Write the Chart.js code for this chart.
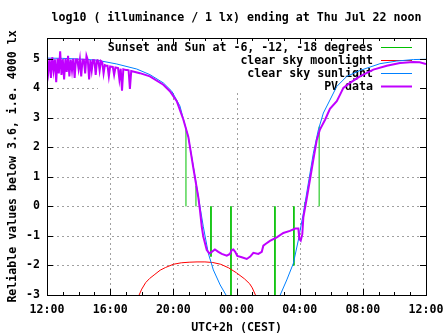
<!DOCTYPE html>
<html>
<head>
<meta charset="utf-8">
<title>log10 illuminance</title>
<script src="https://cdn.jsdelivr.net/npm/chart.js@4.4.1/dist/chart.umd.min.js"></script>
<style>
    html, body { margin: 0; padding: 0; background: #fff; }
    canvas { display: block; }
</style>
</head>
<body>
<canvas id="luxChart" width="447" height="335"></canvas>
<script>
// All times are local CEST, noon to noon; a time smaller than the one before it is the next day.

// Sunset and sun at -6, -12, -18 degrees (evening, then morning)
const sunEventTimes = ['20:48', '21:26', '22:23', '23:39', '02:26', '03:38', '04:20', '05:14'];
const sunEventLevels = [2.6, 0.7, -1.7, -3, -3, -2.0, 0.15, 2.7];

// Clear sky moonlight
const moonTimes = ['17:50', '18:00', '18:15', '18:30', '18:50', '19:10', '19:30', '20:00', '20:30', '21:00',
    '21:30', '22:00', '22:30', '23:00', '23:30', '00:00', '00:30', '00:50', '01:00', '01:12'];
const moonLevels = [-3.0, -2.8, -2.58, -2.44, -2.3, -2.16, -2.07, -1.96, -1.91, -1.89,
    -1.88, -1.88, -1.9, -1.96, -2.08, -2.25, -2.45, -2.62, -2.76, -3.0];

// Clear sky sunlight (null = below the plotted range overnight)
const sunTimes = ['12:00', '13:00', '14:00', '15:09', '16:25', '17:41', '18:31', '19:22', '19:54', '20:25',
    '20:38', '20:57', '21:16', '21:35', '21:54', '22:13', '22:32', '22:58', '23:20', '01:00',
    '02:46', '03:11', '03:36', '03:55', '04:14', '04:33', '04:52', '05:11', '05:30', '05:55',
    '06:21', '06:59', '07:49', '09:05', '10:09', '11:12', '12:00'];
const sunLevels = [5.02, 5.01, 4.99, 4.95, 4.82, 4.65, 4.46, 4.18, 3.9, 3.4,
    2.96, 2.35, 1.35, 0.33, -0.69, -1.59, -2.15, -2.66, -3.0, null,
    -3.0, -2.49, -1.93, -1.14, -0.23, 0.79, 1.8, 2.59, 3.16, 3.6,
    4.06, 4.4, 4.6, 4.83, 4.92, 4.97, 4.98];

// PV sensor readings
const pvTimes = ['12:00', '12:05', '12:10', '12:15', '12:20', '12:25', '12:30', '12:35', '12:40', '12:45',
    '12:50', '12:55', '13:00', '13:05', '13:10', '13:15', '13:20', '13:25', '13:30', '13:35',
    '13:40', '13:45', '13:50', '13:55', '14:00', '14:05', '14:10', '14:15', '14:20', '14:25',
    '14:30', '14:35', '14:40', '14:45', '14:50', '14:55', '15:00', '15:05', '15:10', '15:15',
    '15:20', '15:25', '15:30', '15:35', '15:40', '15:45', '15:50', '15:55', '16:00', '16:05',
    '16:10', '16:15', '16:20', '16:25', '16:30', '16:35', '16:40', '16:45', '16:50', '16:55',
    '17:00', '17:05', '17:10', '17:15', '17:20',
    '17:53', '18:31', '19:22', '19:47', '20:13', '20:38', '20:57', '21:16', '21:35', '21:41',
    '21:48', '21:54', '22:07', '22:17', '22:26', '22:38', '22:51', '23:04', '23:23', '23:35',
    '23:42', '23:48', '23:55', '00:03', '00:20', '00:39', '00:52', '01:04', '01:23', '01:36',
    '01:42', '01:49', '02:07', '02:33', '02:58', '03:23', '03:43', '03:55', '03:59', '04:04',
    '04:10', '04:14', '04:27', '04:40', '04:52', '05:05', '05:17', '05:37', '05:55', '06:21',
    '06:34', '06:46', '07:11', '07:49', '08:40', '09:31', '10:21', '11:11', '11:36', '12:00'];
const pvLevels = [4.98, 4.55, 5.0, 4.35, 5.05, 4.6, 4.98, 4.2, 5.0, 4.5,
    5.25, 4.45, 4.98, 4.3, 5.0, 4.55, 5.1, 4.4, 4.97, 4.6,
    5.0, 4.35, 4.97, 4.97, 4.65, 4.97, 4.4, 4.96, 4.96, 4.5,
    5.1, 4.96, 4.3, 4.95, 4.6, 4.95, 4.95, 4.45, 4.94, 4.94,
    4.6, 4.92, 4.88, 4.5, 4.78, 4.76, 4.76, 4.4, 4.74, 4.73,
    4.72, 4.45, 4.7, 4.69, 4.68, 4.3, 4.66, 3.92, 4.64, 4.63,
    4.62, 4.62, 4.61, 3.98, 4.58,
    4.51, 4.4, 4.12, 3.9, 3.56, 2.94, 2.35, 1.3, 0.3, -0.12,
    -0.69, -1.03, -1.48, -1.59, -1.54, -1.46, -1.54, -1.61, -1.67, -1.61,
    -1.48, -1.46, -1.54, -1.68, -1.72, -1.78, -1.70, -1.57, -1.61, -1.54,
    -1.33, -1.28, -1.17, -1.05, -0.9, -0.83, -0.75, -0.75, -1.11, -1.16,
    -0.94, -0.37, 0.27, 0.95, 1.58, 2.25, 2.6, 2.94, 3.3, 3.56,
    3.79, 4.01, 4.18, 4.4, 4.63, 4.76, 4.85, 4.89, 4.88, 4.82];

// Axis ticks
const xTickHours = [12, 16, 20, 24, 28, 32, 36];
const xTickLabels = ['12:00', '16:00', '20:00', '00:00', '04:00', '08:00', '12:00'];
const yTickValues = [-3, -2, -1, 0, 1, 2, 3, 4, 5];

const legendLabels = ['Sunset and Sun at -6, -12, -18 degrees', 'clear sky moonlight', 'clear sky sunlight', 'PV data'];
const colors = ['#00c000', '#ff0000', '#0080ff', '#c000ff'];
const lineWidths = [1, 1, 1, 2];

const monoFont = 'bold 11.6px "DejaVu Sans Mono", "Liberation Mono", monospace';
const keyBox = { left: 98, top: 38, right: 420, bottom: 93 };

function toHours(times) {
    let day = 0, prev = -1;
    return times.map(t => {
        const [h, m] = t.split(':').map(Number);
        const v = h + m / 60;
        if (v < prev) day += 24;
        prev = v;
        return v + day;
    });
}

function points(times, values) {
    return toHours(times).map((x, i) => ({ x, y: values[i] }));
}

// impulses from 0 to the level, broken apart by null points
const sunEventPoints = [];
toHours(sunEventTimes).forEach((x, i) => {
    sunEventPoints.push({ x, y: 0 }, { x, y: sunEventLevels[i] }, { x, y: null });
});

function drawKey(ctx) {
    ctx.save();
    ctx.font = monoFont;
    ctx.textAlign = 'right';
    ctx.textBaseline = 'middle';
    legendLabels.forEach((label, i) => {
        const rowY = 47 + i * 13;
        ctx.fillStyle = '#000';
        ctx.fillText(label, 373, rowY + 1);
        ctx.strokeStyle = colors[i];
        ctx.lineWidth = lineWidths[i];
        ctx.beginPath();
        ctx.moveTo(381, rowY + 0.5);
        ctx.lineTo(412, rowY + 0.5);
        ctx.stroke();
    });
    ctx.restore();
}

const gnuplotFrame = {
    id: 'gnuplotFrame',
    beforeDatasetsDraw(chart) {
        const { ctx, chartArea: a, scales: { x, y } } = chart;
        ctx.save();
        // grid stays out of the key area
        ctx.beginPath();
        ctx.rect(a.left, a.top, a.right - a.left, a.bottom - a.top);
        ctx.rect(keyBox.left, keyBox.top, keyBox.right - keyBox.left, keyBox.bottom - keyBox.top);
        ctx.clip('evenodd');
        ctx.strokeStyle = '#a0a0a0';
        ctx.lineWidth = 1;
        ctx.setLineDash([2, 3]);
        ctx.beginPath();
        xTickHours.slice(1, -1).forEach(h => {
            const px = Math.round(x.getPixelForValue(h)) + 0.5;
            ctx.moveTo(px, a.bottom);
            ctx.lineTo(px, a.top);
        });
        yTickValues.slice(1).forEach(v => {
            const py = Math.round(y.getPixelForValue(v)) + 0.5;
            ctx.moveTo(a.left, py);
            ctx.lineTo(a.right, py);
        });
        ctx.stroke();
        ctx.restore();
        drawKey(ctx);
    },
    afterDatasetsDraw(chart) {
        const { ctx, chartArea: a, scales: { x, y } } = chart;
        ctx.save();
        ctx.strokeStyle = '#000';
        ctx.lineWidth = 1;
        ctx.beginPath();
        // hourly minor tics on bottom and top
        for (let h = 12; h <= 36; h++) {
            const px = Math.round(x.getPixelForValue(h)) + 0.5;
            const len = xTickHours.includes(h) ? 6 : 3;
            ctx.moveTo(px, a.bottom); ctx.lineTo(px, a.bottom - len);
            ctx.moveTo(px, a.top); ctx.lineTo(px, a.top + len);
        }
        yTickValues.forEach(v => {
            const py = Math.round(y.getPixelForValue(v)) + 0.5;
            ctx.moveTo(a.left, py); ctx.lineTo(a.left + 6, py);
            ctx.moveTo(a.right, py); ctx.lineTo(a.right - 6, py);
        });
        ctx.stroke();
        ctx.strokeRect(a.left + 0.5, a.top + 0.5, a.right - a.left, a.bottom - a.top);
        ctx.restore();
    },
    afterDraw(chart) {
        const { ctx, chartArea: a } = chart;
        const midX = (a.left + a.right) / 2;
        ctx.save();
        ctx.font = monoFont;
        ctx.fillStyle = '#000';
        ctx.textAlign = 'center';
        ctx.textBaseline = 'middle';
        ctx.fillText('log10 ( illuminance / 1 lx) ending at Thu Jul 22 noon', midX, 18);
        ctx.fillText('UTC+2h (CEST)', midX, 328);
        ctx.translate(12.5, (a.top + a.bottom) / 2);
        ctx.rotate(-Math.PI / 2);
        ctx.fillText('Reliable values below 3.6, i.e. 4000 lx', 0, 0);
        ctx.restore();
    }
};

const tickFont = { family: '"DejaVu Sans Mono", "Liberation Mono", monospace', size: 11.6, weight: 'bold' };

new Chart(document.getElementById('luxChart'), {
    type: 'line',
    data: {
        datasets: [
            { label: legendLabels[3], data: points(pvTimes, pvLevels), borderColor: colors[3], borderWidth: lineWidths[3], order: 0 },
            { label: legendLabels[2], data: points(sunTimes, sunLevels), borderColor: colors[2], borderWidth: lineWidths[2], order: 1 },
            { label: legendLabels[1], data: points(moonTimes, moonLevels), borderColor: colors[1], borderWidth: lineWidths[1], order: 2 },
            { label: legendLabels[0], data: sunEventPoints, borderColor: colors[0], borderWidth: lineWidths[0], order: 3 }
        ]
    },
    options: {
        responsive: false,
        animation: false,
        spanGaps: false,
        layout: { padding: { top: 38, right: 21, left: 0, bottom: 0 } },
        elements: {
            point: { radius: 0 },
            line: { tension: 0, borderJoinStyle: 'miter' }
        },
        plugins: {
            legend: { display: false },
            tooltip: { enabled: false }
        },
        scales: {
            x: {
                type: 'linear',
                min: 12,
                max: 36,
                afterFit: (scale) => {
                    scale.height = 40;
                    scale.paddingLeft = 0;
                    scale.paddingRight = 0;
                },
                afterBuildTicks: (scale) => { scale.ticks = xTickHours.map(v => ({ value: v })); },
                grid: { display: false, drawTicks: false },
                border: { display: false },
                ticks: {
                    color: '#000',
                    font: tickFont,
                    padding: 8,
                    maxRotation: 0,
                    autoSkip: false,
                    callback: (value, i) => xTickLabels[i]
                }
            },
            y: {
                type: 'linear',
                min: -3,
                max: 5.7,
                afterFit: (scale) => {
                    scale.width = 47;
                    scale.paddingTop = 0;
                    scale.paddingBottom = 0;
                },
                afterBuildTicks: (scale) => { scale.ticks = yTickValues.map(v => ({ value: v })); },
                grid: { display: false, drawTicks: false },
                border: { display: false },
                ticks: {
                    color: '#000',
                    font: tickFont,
                    padding: 7,
                    callback: (value) => String(value)
                }
            }
        }
    },
    plugins: [gnuplotFrame]
});
</script>
</body>
</html>
